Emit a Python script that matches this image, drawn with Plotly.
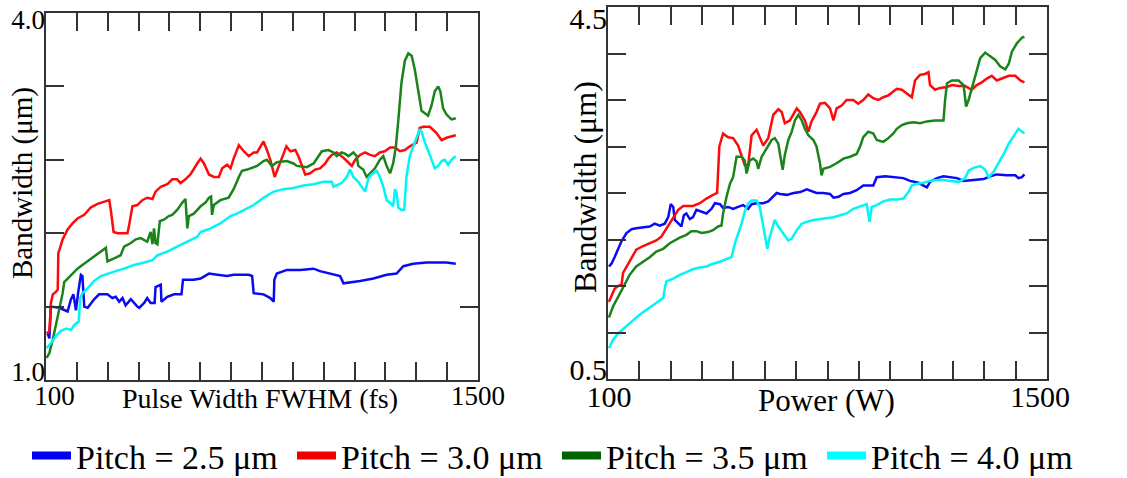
import plotly.graph_objects as go

# ---------------- data ----------------
# Left panel: bandwidth (um) vs pulse width FWHM (fs)
pulse_fs_25 = [105,111,116,143,170,181,189,197,204,213,218,224,235,256,272,299,315,326,337,348,358,375,396,402,418,428,439,452,455,472,474,493,515,539,544,579,601,628,655,687,708,757,768,773,805,827,838,840,848,881,924,967,988,1032,1053,1064,1085,1118,1161,1204,1236,1258,1290,1333,1398,1428]
bw_pulse_25 = [1.38,1.34,1.60,1.59,1.56,1.66,1.70,1.57,1.71,1.86,1.85,1.60,1.59,1.66,1.70,1.70,1.67,1.68,1.64,1.67,1.61,1.66,1.60,1.59,1.63,1.67,1.63,1.63,1.76,1.78,1.64,1.68,1.70,1.70,1.82,1.82,1.83,1.87,1.86,1.85,1.86,1.86,1.85,1.71,1.70,1.67,1.64,1.82,1.87,1.90,1.90,1.91,1.89,1.86,1.85,1.79,1.80,1.81,1.83,1.86,1.87,1.93,1.95,1.96,1.96,1.95]

pulse_fs_30 = [102,111,116,122,132,138,140,143,154,170,186,202,224,245,267,288,305,310,319,332,364,369,380,396,412,428,445,455,472,493,509,525,536,552,568,590,601,612,628,644,660,671,687,698,708,725,741,757,773,784,795,805,816,827,841,854,865,879,892,908,918,929,940,956,972,988,1005,1015,1026,1042,1058,1075,1091,1102,1118,1134,1150,1166,1182,1198,1215,1231,1247,1263,1279,1301,1311,1322,1344,1365,1382,1398,1414,1428]
bw_pulse_30 = [1.38,1.40,1.63,1.70,1.72,1.74,2.04,2.06,2.15,2.23,2.28,2.32,2.35,2.41,2.44,2.46,2.47,2.39,2.21,2.20,2.20,2.26,2.42,2.43,2.47,2.49,2.48,2.54,2.58,2.60,2.64,2.64,2.61,2.64,2.68,2.77,2.81,2.77,2.68,2.66,2.66,2.73,2.76,2.73,2.81,2.92,2.87,2.83,2.86,2.86,2.91,2.95,2.88,2.80,2.66,2.75,2.83,2.91,2.87,2.88,2.83,2.76,2.68,2.69,2.72,2.73,2.77,2.81,2.84,2.86,2.83,2.79,2.75,2.80,2.84,2.86,2.84,2.83,2.86,2.87,2.90,2.90,2.87,2.88,2.91,2.94,3.06,3.07,3.07,3.02,2.96,2.98,2.99,3.00]

pulse_fs_35 = [102,111,122,132,143,154,159,170,186,202,218,235,256,278,294,299,310,326,342,353,375,391,407,428,439,445,450,455,461,469,482,498,509,525,542,552,558,563,579,601,617,628,635,638,644,665,692,708,725,735,752,784,805,816,832,848,881,902,913,945,967,983,994,1015,1032,1042,1058,1069,1080,1096,1107,1112,1128,1139,1150,1166,1182,1193,1204,1215,1225,1234,1242,1252,1263,1274,1285,1295,1306,1317,1328,1338,1349,1360,1371,1378,1387,1398,1414,1428]
bw_pulse_35 = [1.18,1.22,1.33,1.44,1.57,1.71,1.80,1.83,1.87,1.91,1.94,1.97,2.01,2.05,2.08,1.97,1.98,2.00,2.02,2.09,2.12,2.15,2.16,2.13,2.21,2.11,2.24,2.12,2.11,2.30,2.31,2.34,2.35,2.39,2.45,2.48,2.24,2.34,2.36,2.42,2.45,2.49,2.50,2.35,2.43,2.47,2.49,2.56,2.66,2.71,2.72,2.75,2.79,2.80,2.75,2.78,2.79,2.77,2.75,2.74,2.77,2.83,2.87,2.88,2.86,2.83,2.86,2.85,2.83,2.86,2.83,2.75,2.72,2.66,2.69,2.73,2.80,2.83,2.75,2.69,2.77,2.91,3.13,3.43,3.61,3.67,3.65,3.54,3.37,3.20,3.18,3.16,3.24,3.36,3.40,3.36,3.22,3.17,3.13,3.14]

pulse_fs_40 = [102,116,132,148,165,181,192,206,211,218,235,256,278,299,326,353,385,418,445,461,493,525,558,590,601,633,665,698,719,741,773,805,838,870,902,935,967,999,1026,1032,1042,1058,1075,1085,1096,1112,1123,1134,1145,1155,1172,1182,1193,1204,1215,1225,1231,1236,1242,1252,1261,1268,1279,1295,1311,1317,1328,1344,1360,1371,1382,1392,1403,1414,1428]
bw_pulse_40 = [1.26,1.30,1.36,1.40,1.42,1.41,1.45,1.48,1.67,1.71,1.75,1.81,1.85,1.87,1.89,1.91,1.94,1.96,1.98,2.02,2.05,2.09,2.13,2.17,2.21,2.24,2.28,2.34,2.36,2.39,2.43,2.49,2.54,2.56,2.57,2.59,2.60,2.62,2.62,2.58,2.59,2.61,2.66,2.72,2.66,2.62,2.58,2.54,2.65,2.68,2.71,2.66,2.58,2.47,2.45,2.42,2.56,2.53,2.41,2.39,2.39,2.66,2.83,2.94,3.05,3.03,2.94,2.84,2.73,2.75,2.79,2.80,2.76,2.80,2.83]

# Right panel: bandwidth (um) vs power (W)
power_w_25 = [103,111,121,132,143,159,175,190,212,233,249,265,281,292,300,308,313,324,334,342,350,361,371,382,398,414,430,441,457,467,483,499,515,531,547,558,574,595,611,627,638,649,670,692,713,734,749,765,787,808,819,835,851,872,893,914,946,957,984,1010,1042,1063,1090,1106,1117,1127,1149,1170,1191,1213,1234,1266,1298,1319,1340,1372,1399,1409,1420,1428]
bw_power_25 = [1.71,1.74,1.81,1.90,1.98,2.07,2.11,2.12,2.13,2.14,2.17,2.15,2.17,2.24,2.38,2.35,2.21,2.17,2.14,2.26,2.28,2.22,2.24,2.32,2.30,2.28,2.33,2.39,2.38,2.34,2.35,2.33,2.35,2.37,2.33,2.38,2.39,2.39,2.41,2.46,2.50,2.49,2.48,2.50,2.51,2.54,2.52,2.50,2.50,2.49,2.45,2.46,2.49,2.50,2.53,2.58,2.58,2.67,2.68,2.67,2.66,2.63,2.61,2.58,2.56,2.62,2.66,2.68,2.67,2.66,2.63,2.64,2.65,2.68,2.70,2.69,2.69,2.66,2.67,2.70]

power_w_30 = [103,111,121,132,143,148,159,175,190,212,233,254,270,286,308,324,340,371,393,414,435,448,455,467,483,499,515,526,536,547,558,574,584,595,611,627,643,654,664,680,702,712,728,739,749,765,776,792,808,819,829,845,861,882,898,914,930,946,962,978,994,1010,1021,1037,1053,1069,1079,1095,1111,1122,1127,1143,1159,1181,1197,1218,1239,1260,1276,1292,1308,1324,1340,1356,1378,1399,1415,1428]
bw_power_30 = [1.33,1.40,1.47,1.50,1.51,1.64,1.71,1.80,1.89,1.93,1.96,1.99,2.03,2.12,2.24,2.32,2.36,2.36,2.39,2.44,2.48,2.50,3.00,3.14,3.10,3.09,3.01,2.91,2.80,2.80,3.12,3.18,3.10,3.01,3.09,3.34,3.40,3.37,3.25,3.28,3.41,3.37,3.28,3.16,3.27,3.37,3.46,3.47,3.41,3.28,3.41,3.44,3.50,3.50,3.46,3.50,3.56,3.52,3.50,3.53,3.55,3.59,3.62,3.61,3.57,3.53,3.71,3.77,3.78,3.80,3.66,3.61,3.63,3.64,3.66,3.65,3.65,3.61,3.66,3.69,3.73,3.76,3.71,3.73,3.76,3.76,3.71,3.69]

power_w_35 = [103,116,132,148,169,190,212,233,254,276,297,313,329,350,366,382,398,419,435,451,462,467,478,489,499,510,526,536,542,552,563,574,579,590,606,622,632,643,650,657,664,675,686,696,707,718,728,739,755,765,776,781,787,808,829,851,872,893,904,914,930,946,957,978,994,1010,1021,1037,1053,1074,1095,1117,1143,1170,1175,1181,1197,1218,1234,1242,1250,1260,1271,1287,1303,1319,1335,1351,1367,1378,1388,1404,1420,1428]
bw_power_35 = [1.16,1.28,1.38,1.49,1.62,1.71,1.76,1.81,1.87,1.90,1.96,1.99,2.02,2.05,2.09,2.09,2.07,2.08,2.10,2.14,2.15,2.28,2.46,2.60,2.67,2.89,2.89,2.85,2.71,2.85,2.87,2.84,2.76,2.89,2.98,3.07,3.09,3.03,2.89,2.75,2.91,3.07,3.16,3.28,3.34,3.28,3.19,3.12,3.07,3.00,2.82,2.69,2.76,2.78,2.82,2.87,2.89,2.92,3.00,3.10,3.16,3.14,3.07,3.05,3.09,3.14,3.19,3.23,3.25,3.26,3.25,3.27,3.28,3.28,3.50,3.68,3.71,3.71,3.66,3.43,3.50,3.62,3.78,3.95,4.01,3.97,3.93,3.86,3.83,3.89,4.02,4.11,4.17,4.18]

power_w_40 = [103,116,132,148,164,180,201,222,244,265,276,281,286,308,329,350,371,393,414,435,457,478,494,505,515,526,536,547,558,574,584,595,608,616,632,643,659,675,686,702,718,733,755,776,797,819,840,861,882,904,925,934,941,957,978,1000,1021,1042,1058,1069,1085,1106,1127,1149,1170,1191,1218,1239,1250,1266,1287,1303,1314,1330,1346,1362,1378,1394,1409,1420,1428]
bw_power_40 = [0.83,0.92,0.99,1.04,1.08,1.13,1.19,1.24,1.30,1.35,1.37,1.47,1.55,1.58,1.62,1.65,1.68,1.70,1.71,1.74,1.76,1.79,1.81,1.96,2.05,2.17,2.30,2.39,2.42,2.42,2.35,2.14,1.90,2.03,2.21,2.14,2.07,1.99,2.01,2.10,2.17,2.19,2.21,2.22,2.23,2.24,2.26,2.28,2.33,2.36,2.38,2.19,2.35,2.37,2.41,2.43,2.43,2.44,2.51,2.58,2.60,2.61,2.63,2.64,2.64,2.63,2.62,2.66,2.74,2.77,2.79,2.75,2.67,2.73,2.82,2.92,3.03,3.12,3.19,3.16,3.14]

series_names = ["Pitch = 2.5 μm", "Pitch = 3.0 μm", "Pitch = 3.5 μm", "Pitch = 4.0 μm"]
line_colors = ["#0a0af5", "#ff0a0a", "#1a841a", "#00f5f5"]
legend_colors = ["#0000ee", "#ee0000", "#006400", "#00ffff"]

x_ticks = list(range(100, 1501, 100))
x_end_labels = ["100", "1500"]
y1_ticks = [1.0, 1.6, 2.2, 2.8, 3.4, 4.0]
y1_end_labels = ["1.0", "4.0"]
y2_ticks = [0.5, 1.0, 1.5, 2.0, 2.5, 3.0, 3.5, 4.0, 4.5]
y2_end_labels = ["0.5", "4.5"]

# ---------------- figure ----------------
FONT = "Liberation Serif, Times New Roman, serif"
W, H = 1127, 478


def fx(px):                   # page pixel -> paper fraction (x)
    return min(max(px / W, 0.0), 1.0)


def fy(py):                   # page pixel -> paper fraction (y)
    return min(max((H - py) / H, 0.0), 1.0)


# plot frames in page pixels
L_X0, L_X1, L_Y0, L_Y1 = 46, 478, 380, 13
R_X0, R_X1, R_Y0, R_Y1 = 608, 1047, 379, 7

left = [(pulse_fs_25, bw_pulse_25), (pulse_fs_30, bw_pulse_30),
        (pulse_fs_35, bw_pulse_35), (pulse_fs_40, bw_pulse_40)]
right = [(power_w_25, bw_power_25), (power_w_30, bw_power_30),
         (power_w_35, bw_power_35), (power_w_40, bw_power_40)]

fig = go.Figure()
for (x, y), c in zip(left, line_colors):
    fig.add_trace(go.Scatter(x=x, y=y, mode="lines", line=dict(color=c, width=2.5),
                             showlegend=False, xaxis="x", yaxis="y", hoverinfo="skip"))
for (x, y), c in zip(right, line_colors):
    fig.add_trace(go.Scatter(x=x, y=y, mode="lines", line=dict(color=c, width=2.5),
                             showlegend=False, xaxis="x2", yaxis="y2", hoverinfo="skip"))
# legend-only entries (thicker keys, as in the reference); they live on the label axes
legend_axes = [("x3", "y3"), ("x3", "y3"), ("x4", "y4"), ("x4", "y4")]
for name, c, (xa, ya) in zip(series_names, legend_colors, legend_axes):
    fig.add_trace(go.Scatter(x=[None], y=[None], mode="lines", name=name,
                             line=dict(color=c, width=8), showlegend=True,
                             xaxis=xa, yaxis=ya))


def frame_axis(domain, rng, tickvals, anchor):
    return dict(domain=domain, range=rng, anchor=anchor, showgrid=False, zeroline=False,
                showline=True, linecolor="#333333", linewidth=1.5, mirror="ticks",
                ticks="inside", ticklen=18, tickwidth=1.5, tickcolor="#333333",
                tickmode="array", tickvals=tickvals, showticklabels=False, fixedrange=True)


def label_axis(overlay, anchor, side, rng, length_px, shifts_px, labels, size, standoff=0):
    # end labels sit slightly inside the frame, as in the reference:
    # stretch the label axis' range so each end value lands shifts_px from the frame end
    v0, v1 = rng
    s0, s1 = shifts_px
    per_px = (v1 - v0) / (length_px + s1 - s0)
    lrng = [v0 - s0 * per_px, v1 - s1 * per_px]
    return dict(overlaying=overlay, anchor=anchor, side=side, range=lrng,
                showgrid=False, zeroline=False, showline=False, ticks="",
                tickmode="array", tickvals=[v0, v1], ticktext=labels,
                ticklabeloverflow="allow", ticklabelstandoff=standoff,
                tickfont=dict(family=FONT, size=size, color="black"), fixedrange=True)


fig.update_layout(
    width=W, height=H, autosize=False,
    margin=dict(l=0, r=0, t=0, b=0, pad=0, autoexpand=False),
    paper_bgcolor="white", plot_bgcolor="white",
    font=dict(family=FONT, color="black"),
    # left panel
    xaxis=frame_axis([fx(L_X0), fx(L_X1)], [100, 1500], x_ticks, "y"),
    yaxis=frame_axis([fy(L_Y0), fy(L_Y1)], [1.0, 4.0], y1_ticks, "x"),
    xaxis3=label_axis("x", "y", "bottom", [100, 1500], L_X1 - L_X0, (8.5, 0),
                      x_end_labels, 27, -3),
    yaxis3=label_axis("y", "x", "left", [1.0, 4.0], L_Y0 - L_Y1, (8.5, -7),
                      y1_end_labels, 27),
    # right panel
    xaxis2=frame_axis([fx(R_X0), fx(R_X1)], [100, 1500], x_ticks, "y2"),
    yaxis2=frame_axis([fy(R_Y0), fy(R_Y1)], [0.5, 4.5], y2_ticks, "x2"),
    xaxis4=label_axis("x2", "y2", "bottom", [100, 1500], R_X1 - R_X0, (1, -7),
                      x_end_labels, 30, -3),
    yaxis4=label_axis("y2", "x2", "left", [0.5, 4.5], R_Y0 - R_Y1, (10, -11),
                      y2_end_labels, 30),
    legend=dict(orientation="h", x=fx(27), y=fy(456), xanchor="left", yanchor="middle",
                font=dict(family=FONT, size=34, color="black"), itemwidth=39,
                entrywidth=211, entrywidthmode="pixels", bgcolor="rgba(0,0,0,0)",
                itemclick=False, itemdoubleclick=False),
    annotations=[
        dict(text="Pulse Width FWHM (fs)", x=fx(260), y=fy(398), xref="paper", yref="paper",
             showarrow=False, xanchor="center", yanchor="middle", font=dict(family=FONT, size=28)),
        dict(text="Bandwidth (μm)", x=fx(22), y=fy(183), xref="paper", yref="paper",
             showarrow=False, xanchor="center", yanchor="middle", textangle=-90,
             font=dict(family=FONT, size=29)),
        dict(text="Power (W)", x=fx(826), y=fy(400), xref="paper", yref="paper",
             showarrow=False, xanchor="center", yanchor="middle", font=dict(family=FONT, size=31)),
        dict(text="Bandwidth (μm)", x=fx(585), y=fy(187), xref="paper", yref="paper",
             showarrow=False, xanchor="center", yanchor="middle", textangle=-90,
             font=dict(family=FONT, size=32)),
    ],
)

# the figure fills the whole page, so drop the browser's default body margin
fig.write_html("out.html", config={"displayModeBar": False},
               post_script="document.body.style.margin='0';")
